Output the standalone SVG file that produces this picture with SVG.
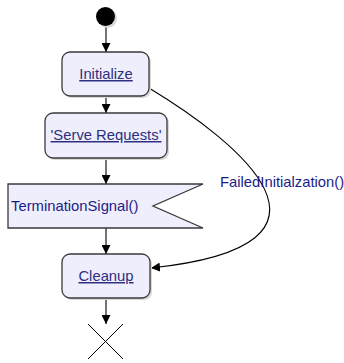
<svg xmlns="http://www.w3.org/2000/svg" width="344" height="363" viewBox="0 0 344 363">
<style>
.box{fill:#eeeefc;stroke:#3a3a3a;stroke-width:1.3}
.shadow{fill:#d8d8d8}
.lbl{font-family:"Liberation Sans",Arial,sans-serif;font-size:14.8px;fill:#2e2e80;text-decoration:underline;text-anchor:middle}
.sig{font-family:"Liberation Sans",Arial,sans-serif;font-size:14.8px;fill:#1c1c88}
.edge{fill:none;stroke:#000;stroke-width:1.1}
</style>
<defs>
<marker id="arr" viewBox="0 0 10 10" refX="10" refY="5" markerWidth="9" markerHeight="9" markerUnits="userSpaceOnUse" orient="auto">
<path d="M0,0 L10,5 L0,10 Z" fill="#000"/>
</marker>
</defs>
<rect width="344" height="363" fill="#fff"/>
<g id="connectors">
<line class="edge" x1="106" y1="26" x2="106" y2="52" marker-end="url(#arr)"/>
<line class="edge" x1="106" y1="96" x2="106" y2="113" marker-end="url(#arr)"/>
<line class="edge" x1="106" y1="158" x2="106" y2="184" marker-end="url(#arr)"/>
<line class="edge" x1="106" y1="228" x2="106" y2="254" marker-end="url(#arr)"/>
<line class="edge" x1="106" y1="298" x2="106" y2="324" marker-end="url(#arr)"/>
<path class="edge" d="M149,88 C235,140 370,245 151,268" marker-end="url(#arr)"/>
<text class="sig" x="220" y="187">FailedInitialzation()</text>
</g>
<g id="start">
<circle cx="107.5" cy="18.5" r="9.5" fill="#d8d8d8"/>
<circle cx="105.5" cy="16.5" r="9.5" fill="#000"/>
</g>
<g id="initialize">
<rect class="shadow" x="64" y="54" width="87" height="44" rx="8"/>
<rect class="box" x="62" y="52" width="87" height="44" rx="8"/>
<text class="lbl" x="106" y="79">Initialize</text>
</g>
<g id="serve">
<rect class="shadow" x="47" y="115" width="122" height="45" rx="8"/>
<rect class="box" x="45" y="113" width="122" height="45" rx="8"/>
<text class="lbl" x="106" y="140">'Serve Requests'</text>
</g>
<g id="termination">
<polygon class="box" points="8,184 203,184 153,206 203,228 8,228"/>
<text class="sig" x="11" y="211">TerminationSignal()</text>
</g>
<g id="cleanup">
<rect class="shadow" x="64" y="256" width="88" height="44" rx="8"/>
<rect class="box" x="62" y="254" width="88" height="44" rx="8"/>
<text class="lbl" x="106" y="281">Cleanup</text>
</g>
<g id="end">
<line x1="88" y1="324" x2="123" y2="359" stroke="#000" stroke-width="1"/>
<line x1="123" y1="324" x2="88" y2="359" stroke="#000" stroke-width="1"/>
</g>
</svg>
